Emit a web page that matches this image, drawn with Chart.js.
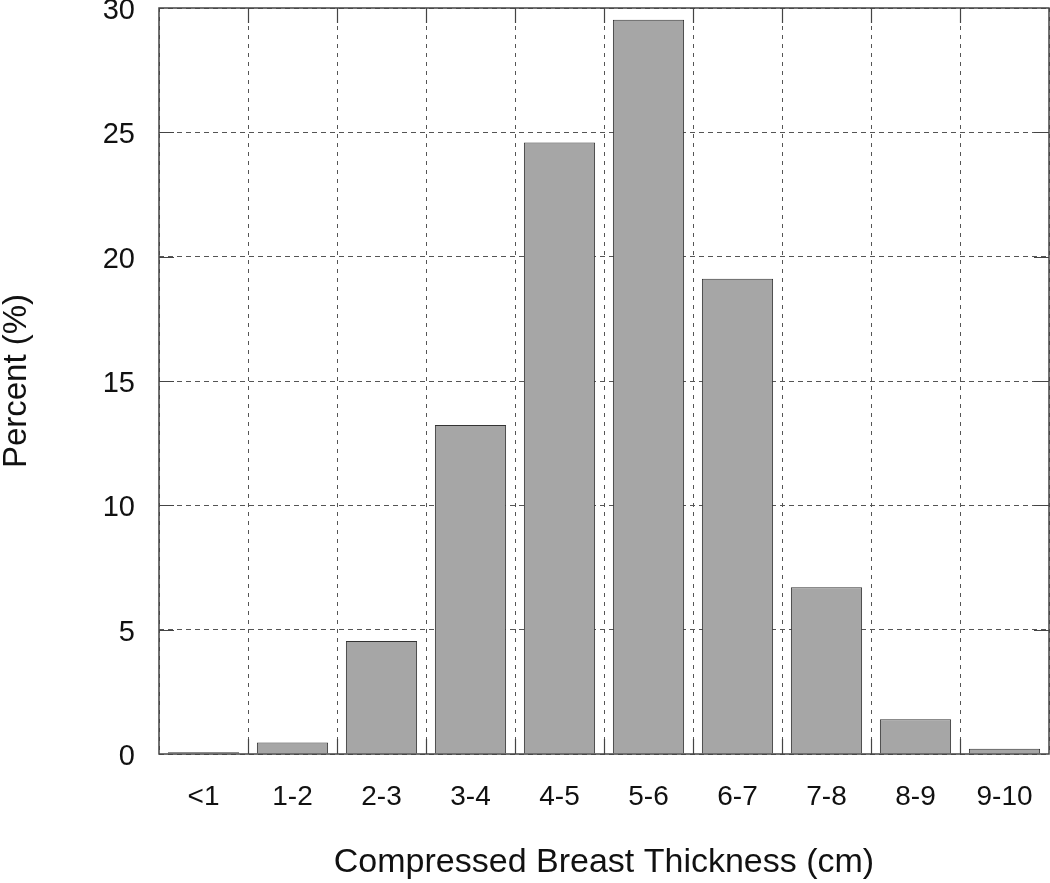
<!DOCTYPE html>
<html>
<head>
<meta charset="utf-8">
<script src="https://cdn.jsdelivr.net/npm/chart.js@4.4.0/dist/chart.umd.min.js"></script>
<style>
  body { margin: 0; background: #fff; }
  #wrap { width: 1050px; height: 883px; }
</style>
</head>
<body>
<div id="wrap"><canvas id="chart" width="1050" height="883"></canvas></div>
<script>
// Thickness bins and share of exams (%)
const categories = ['<1', '1-2', '2-3', '3-4', '4-5', '5-6', '6-7', '7-8', '8-9', '9-10'];
const percents = [0.07, 0.46, 4.54, 13.23, 24.59, 29.53, 19.11, 6.71, 1.40, 0.21];
const yTicks = [0, 5, 10, 15, 20, 25, 30];

const fontFamily = '"Liberation Sans", Arial, Helvetica, sans-serif';

// frame around the plot plus inward tick marks (gnuplot look)
const framePlugin = {
    id: 'frame',
    afterDatasetsDraw(chart) {
        const ctx = chart.ctx;
        const a = chart.chartArea;
        const x = chart.scales.x;
        const y = chart.scales.y;
        const tl = 15;
        ctx.save();
        ctx.strokeStyle = '#444';
        ctx.lineWidth = 1.2;
        ctx.beginPath();
        yTicks.slice(1, -1).forEach(v => {
            const py = Math.round(y.getPixelForValue(v)) + 0.5;
            ctx.moveTo(a.left, py); ctx.lineTo(a.left + tl, py);
            ctx.moveTo(a.right, py); ctx.lineTo(a.right - tl, py);
        });
        for (let i = 1; i < categories.length; i++) {
            const px = Math.round((x.getPixelForValue(i - 1) + x.getPixelForValue(i)) / 2) + 0.5;
            ctx.moveTo(px, a.top); ctx.lineTo(px, a.top + tl);
            ctx.moveTo(px, a.bottom); ctx.lineTo(px, a.bottom - tl);
        }
        ctx.stroke();
        ctx.lineWidth = 1.5;
        ctx.strokeRect(a.left, a.top, a.right - a.left, a.bottom - a.top);
        ctx.restore();
    }
};

const ctx = document.getElementById('chart').getContext('2d');
new Chart(ctx, {
    type: 'bar',
    data: {
        labels: categories,
        datasets: [{
            data: percents,
            backgroundColor: '#a6a6a6',
            borderColor: '#333',
            borderWidth: 1,
            borderSkipped: 'start',
            categoryPercentage: 1.0,
            barPercentage: 0.8
        }]
    },
    options: {
        responsive: false,
        animation: false,
        layout: { padding: { top: 8, right: 1, left: 0, bottom: 0 } },
        plugins: {
            legend: { display: false },
            tooltip: { enabled: false }
        },
        scales: {
            x: {
                offset: true,
                grid: {
                    offset: true,
                    color: '#555',
                    lineWidth: 1,
                    drawTicks: false
                },
                border: { display: false, dash: [4, 5] },
                ticks: {
                    color: '#111',
                    padding: 26,
                    font: { family: fontFamily, size: 28 }
                },
                title: {
                    display: true,
                    text: 'Compressed Breast Thickness (cm)',
                    color: '#111',
                    padding: { top: 14, bottom: 0 },
                    font: { family: fontFamily, size: 34, lineHeight: 1.2 }
                },
                afterFit(scale) {
                    scale.height = 129;
                    scale.paddingLeft = 0;
                    scale.paddingRight = 0;
                }
            },
            y: {
                min: 0,
                max: 30,
                afterBuildTicks(scale) { scale.ticks = yTicks.map(v => ({ value: v })); },
                grid: {
                    color: '#555',
                    lineWidth: 1,
                    drawTicks: false
                },
                border: { display: false, dash: [5, 4] },
                ticks: {
                    color: '#111',
                    padding: 24,
                    labelOffset: 3,
                    font: { family: fontFamily, size: 29 }
                },
                title: {
                    display: true,
                    text: 'Percent (%)',
                    color: '#111',
                    padding: 0,
                    font: { family: fontFamily, size: 33, lineHeight: 1 }
                },
                afterFit(scale) {
                    scale.width = 159;
                    scale.paddingTop = 0;
                    scale.paddingBottom = 0;
                }
            }
        }
    },
    plugins: [framePlugin]
});
</script>
</body>
</html>
